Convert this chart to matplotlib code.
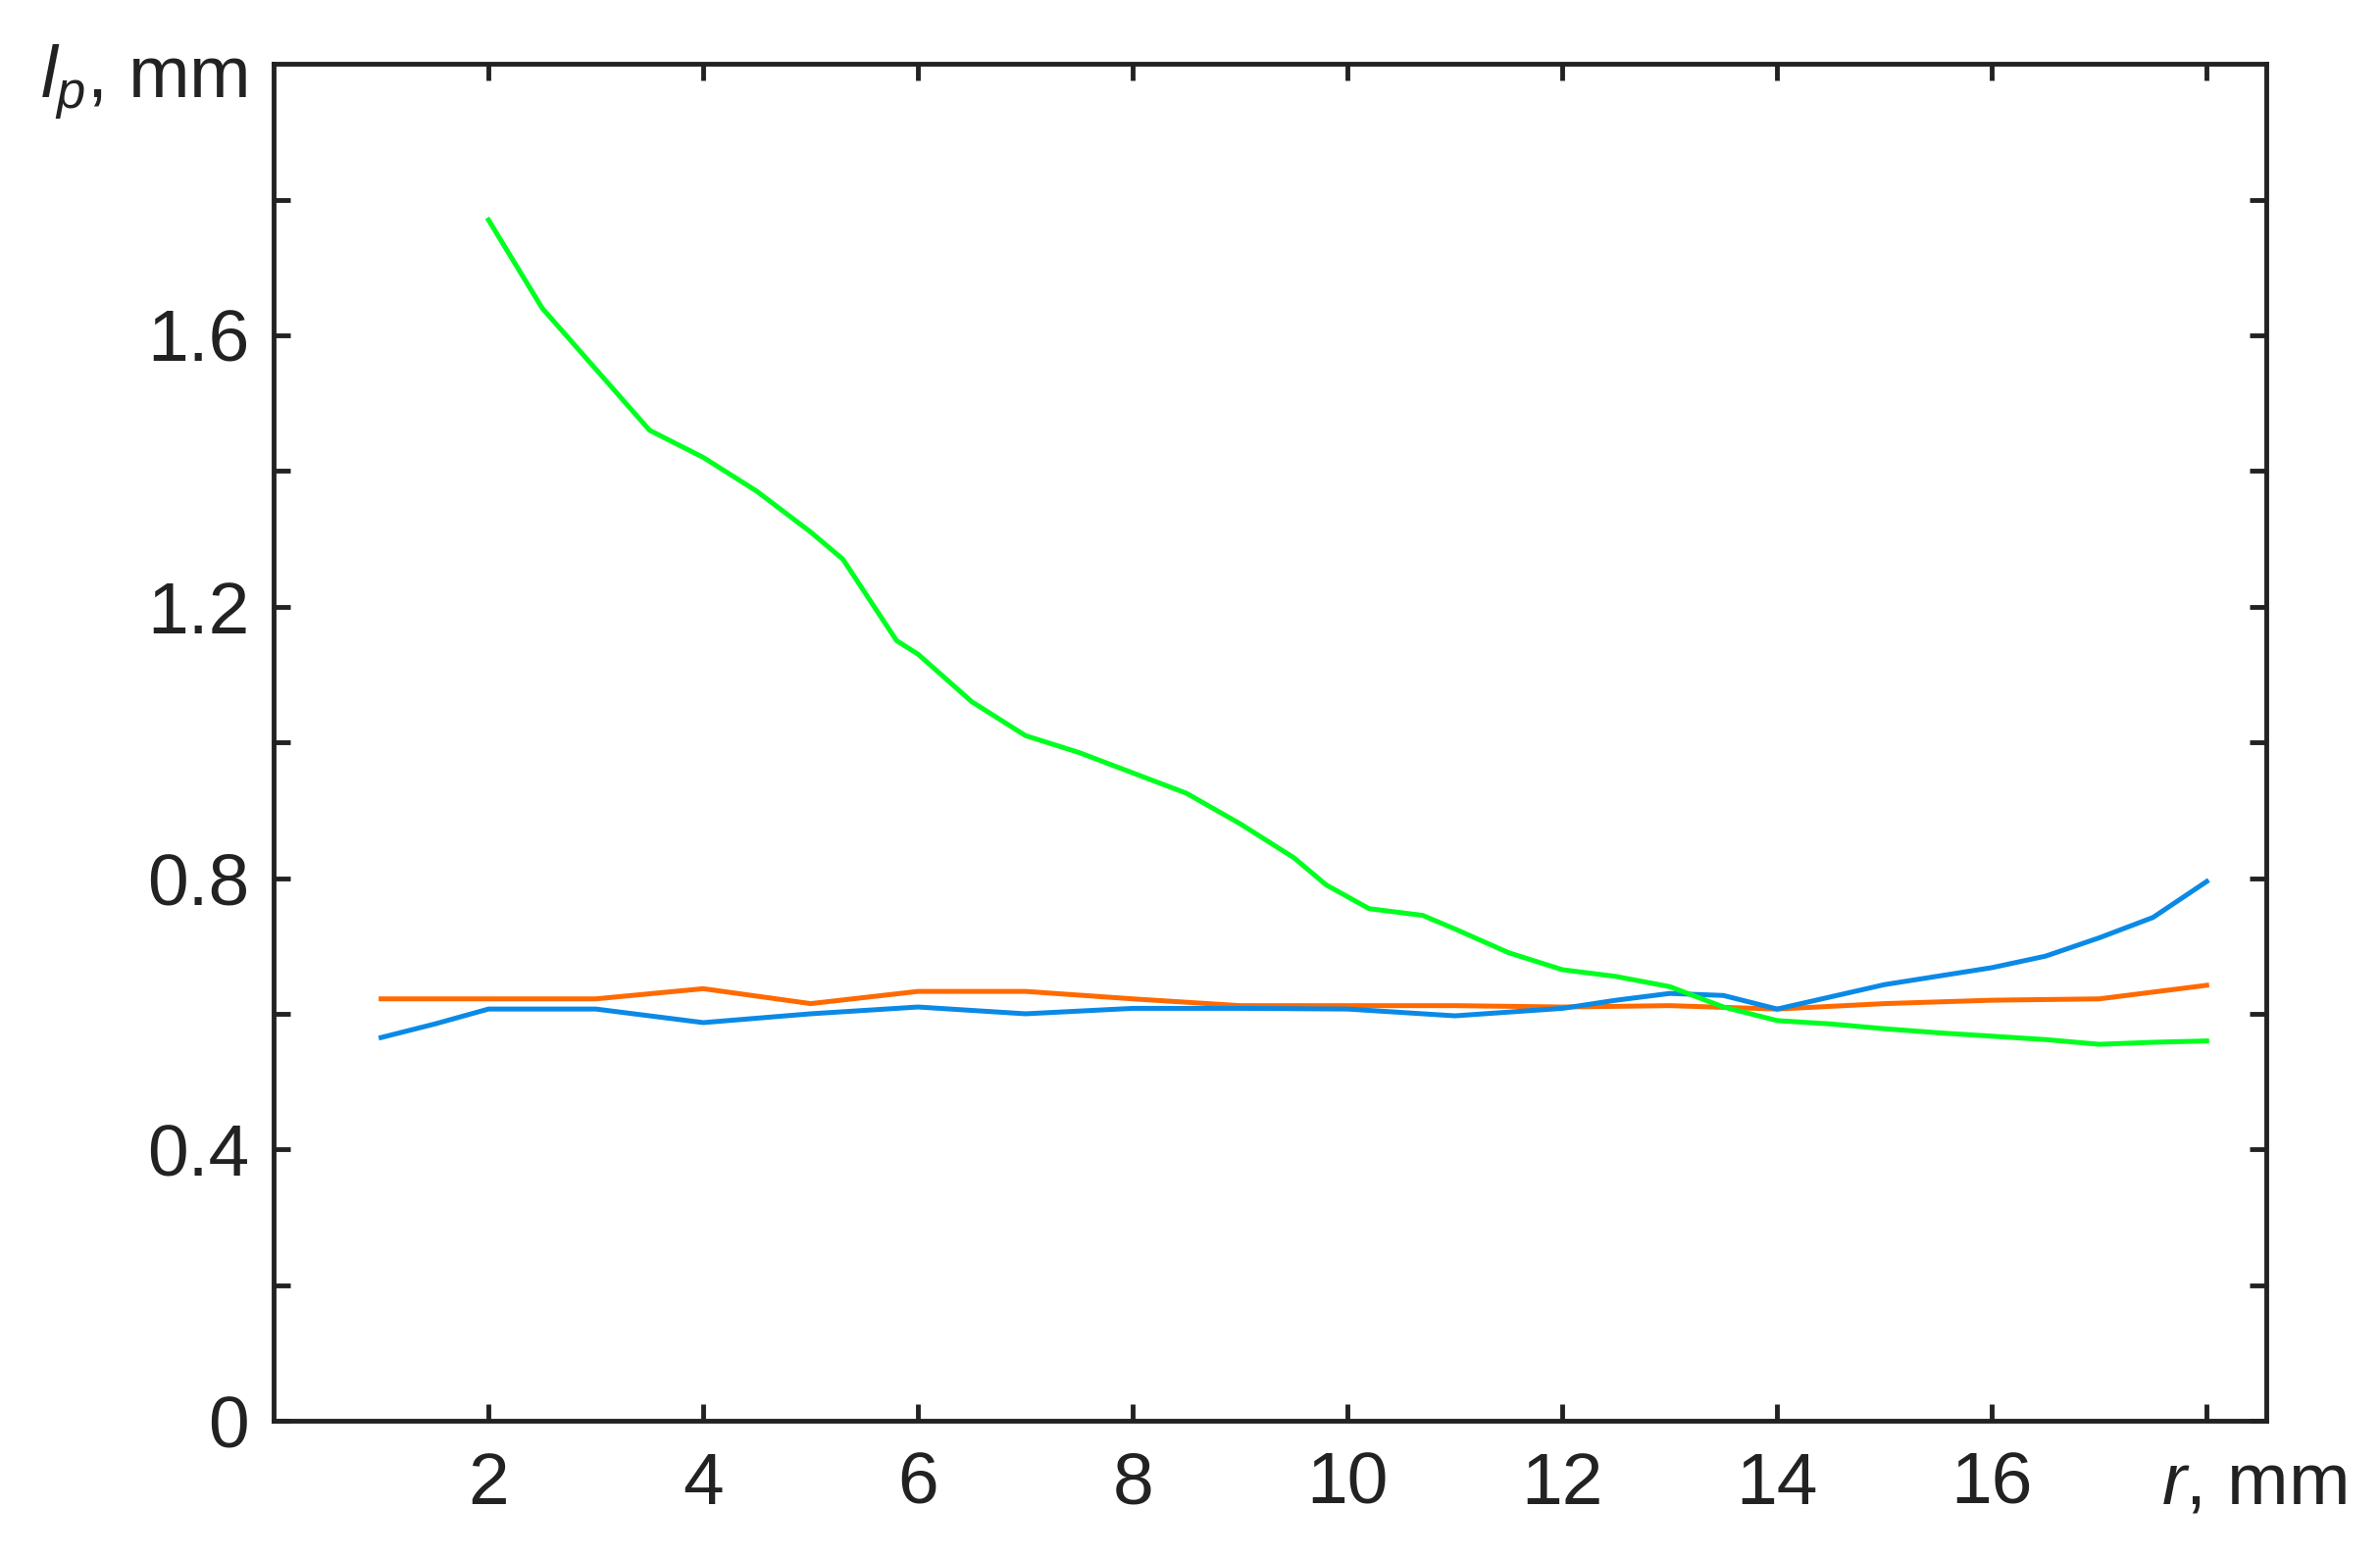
import matplotlib
matplotlib.use("Agg")
import matplotlib.pyplot as plt
from matplotlib.ticker import FixedLocator

plt.rcParams['font.family'] = ['Liberation Sans', 'DejaVu Sans']
plt.rcParams['mathtext.fontset'] = 'custom'
plt.rcParams['mathtext.rm'] = 'Liberation Sans'
plt.rcParams['mathtext.it'] = 'Liberation Sans:italic'

# ---- data ----
green_x = [2.0, 2.5, 3.0, 3.5, 4.0, 4.5, 5.0, 5.3, 5.8, 6.0, 6.5, 7.0, 7.5, 8.0, 8.5,
           9.0, 9.5, 9.8, 10.2, 10.7, 11.0, 11.5, 12.0, 12.5, 13.0, 13.5, 14.0, 14.5,
           15.0, 15.5, 16.0, 16.5, 17.0, 17.5, 18.0]
green_y = [1.77, 1.64, 1.55, 1.46, 1.42, 1.37, 1.31, 1.27, 1.15, 1.13, 1.06, 1.01, 0.985,
           0.955, 0.925, 0.88, 0.83, 0.79, 0.755, 0.745, 0.725, 0.69, 0.665, 0.655, 0.64,
           0.61, 0.59, 0.585, 0.578, 0.572, 0.567, 0.562, 0.555, 0.558, 0.56]

blue_x = [1.0, 1.5, 2.0, 3.0, 3.5, 4.0, 5.0, 6.0, 6.5, 7.0, 8.0, 9.0, 10.0, 11.0, 12.0,
          12.5, 13.0, 13.5, 14.0, 14.5, 15.0, 16.0, 16.5, 17.0, 17.5, 18.0]
blue_y = [0.565, 0.585, 0.607, 0.607, 0.597, 0.587, 0.600, 0.610, 0.605, 0.600, 0.608,
          0.608, 0.607, 0.597, 0.608, 0.620, 0.630, 0.627, 0.607, 0.625, 0.643, 0.668,
          0.685, 0.712, 0.742, 0.795]

orange_x = [1.0, 3.0, 4.0, 5.0, 6.0, 7.0, 8.0, 9.0, 10.0, 11.0, 12.0, 13.0, 14.0, 15.0,
            16.0, 17.0, 18.0]
orange_y = [0.622, 0.622, 0.637, 0.615, 0.633, 0.633, 0.622, 0.612, 0.612, 0.612, 0.610,
            0.612, 0.607, 0.615, 0.620, 0.622, 0.642]

x_ticks = [2, 4, 6, 8, 10, 12, 14, 16, 18]
x_ticklabels = ['2', '4', '6', '8', '10', '12', '14', '16', '']
y_major = [0, 0.4, 0.8, 1.2, 1.6]
y_ticklabels = ['0', '0.4', '0.8', '1.2', '1.6']

# ---- figure ----
fig = plt.figure(figsize=(24.27, 15.89), dpi=100)
ax = fig.add_axes([0.115, 0.088, 0.837, 0.871])

ax.plot(orange_x, orange_y, color='#ff6a00', lw=3.6)
ax.plot(blue_x, blue_y, color='#0a8ae6', lw=3.6)
ax.plot(green_x, green_y, color='#00ff20', lw=3.6)

ax.set_xlim(0, 18.55)
ax.set_ylim(0, 2.0)

ax.xaxis.set_major_locator(FixedLocator(x_ticks))
ax.set_xticklabels(x_ticklabels)
ax.yaxis.set_major_locator(FixedLocator(y_major))
ax.set_yticklabels(y_ticklabels)
ax.yaxis.set_minor_locator(FixedLocator([0.2, 0.6, 1.0, 1.4, 1.8]))

for s in ax.spines.values():
    s.set_linewidth(3.5)
    s.set_color('#222222')

ax.tick_params(axis='both', which='both', direction='in', top=True, right=True,
               length=12, width=3.5, color='#222222', labelsize=54, labelcolor='#222222')
ax.tick_params(axis='x', pad=22)
ax.tick_params(axis='y', pad=18)

ax.text(17.58, -0.122, r'$r$, mm', fontsize=54, color='#222222', ha='left', va='baseline',
        transform=ax.transData, clip_on=False)
fig.text(0.017, 0.937, r'$l_p$, mm', fontsize=54, color='#222222', ha='left', va='baseline')

fig.savefig('out.png', dpi=100, facecolor='white')
